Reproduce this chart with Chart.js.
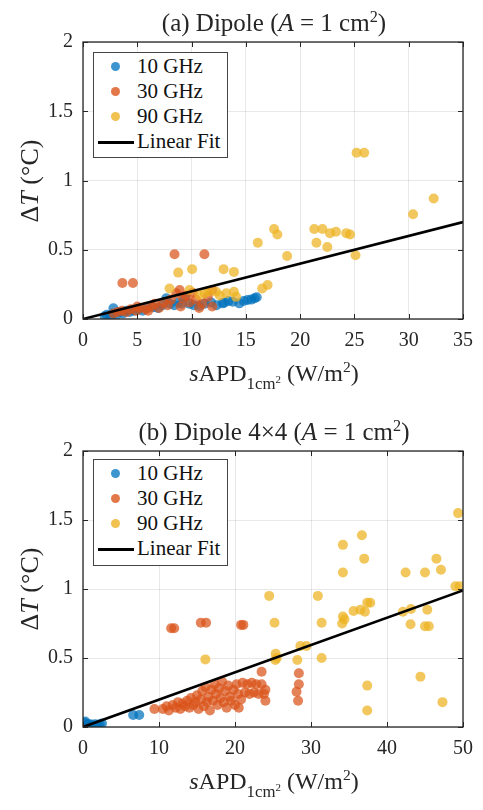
<!DOCTYPE html>
<html><head><meta charset="utf-8">
<script src="https://cdn.jsdelivr.net/npm/chart.js@4"></script>
<style>
body{margin:0;background:#fff;width:483px;height:810px;position:relative;overflow:hidden;font-family:"Liberation Serif","Times New Roman",serif;color:#262626}
canvas{position:absolute;left:0}
.t{position:absolute;white-space:nowrap;transform:translateX(-50%);font-size:25px;line-height:1}
.xl{position:absolute;white-space:nowrap;transform:translateX(-50%);font-size:24px;line-height:1}
.yl{position:absolute;white-space:nowrap;transform:translate(-50%,-50%) rotate(-90deg);font-size:26px;line-height:1}
sup{font-size:0.65em;vertical-align:0.55em;line-height:0}
sub{font-size:0.7em;vertical-align:-0.5em;line-height:0}
.lg{position:absolute;border:1px solid #444;background:#fff;font-size:21px;color:#111;padding-top:1px}
.lg div{position:relative;height:25px;line-height:25px;padding-left:43px}
.lg span.d{position:absolute;left:17px;top:8px;width:9px;height:9px;border-radius:50%}
.lg span.l{position:absolute;left:4px;top:12px;width:36px;height:2.5px;background:#000}
</style></head><body>
<canvas id="ca" width="483" height="405" style="top:0"></canvas>
<canvas id="cb" width="483" height="405" style="top:405px"></canvas>

<div class="t" style="left:274px;top:10px">(a) Dipole (<i>A</i> = 1 cm<sup>2</sup>)</div>
<div class="xl" style="left:274px;top:361px"><i>s</i>APD<sub>1cm<sup>2</sup></sub> (W/m<sup>2</sup>)</div>
<div class="yl" style="left:30px;top:181px">Δ<i>T</i> (°C)</div>

<div class="t" style="left:274px;top:419px">(b) Dipole 4×4 (<i>A</i> = 1 cm<sup>2</sup>)</div>
<div class="xl" style="left:274px;top:769px"><i>s</i>APD<sub>1cm<sup>2</sup></sub> (W/m<sup>2</sup>)</div>
<div class="yl" style="left:30px;top:589px">Δ<i>T</i> (°C)</div>

<div class="lg" id="lga" style="left:93px;top:52px;width:133px;height:103px"></div>
<div class="lg" id="lgb" style="left:93px;top:459px;width:133px;height:104px"></div>

<script>
// ---------- data ----------
const seriesNames = ["10 GHz", "30 GHz", "90 GHz"];
const fitName = "Linear Fit";
const yTicks = [0, 0.5, 1, 1.5, 2];
const xTicksA = [0, 5, 10, 15, 20, 25, 30, 35];
const xTicksB = [0, 10, 20, 30, 40, 50];

const dipole10GHz = [[2.0,0.02],[2.2,0.03],[2.5,0.02],[2.8,0.04],[2.8,0.077],[3.1,0.03],[3.4,0.05],[3.7,0.04],[4.0,0.06],[4.3,0.05],[4.7,0.06],[5.1,0.07],[5.5,0.06],[5.9,0.08],[6.45,0.085],[6.9,0.08],[7.3,0.10],[7.67,0.15],[8.0,0.11],[8.4,0.10],[8.8,0.12],[9.1,0.11],[9.4,0.16],[9.8,0.11],[10.2,0.10],[10.7,0.094],[11.2,0.11],[11.8,0.12],[12.3,0.10],[12.86,0.113],[13.0,0.118],[13.4,0.13],[13.8,0.125],[14.4,0.113],[14.8,0.13],[15.15,0.137],[15.5,0.14],[15.8,0.15],[16.0,0.157]];
const dipole30GHz = [[2.8,0.04],[3.2,0.05],[3.6,0.06],[3.63,0.26],[4.0,0.05],[4.4,0.07],[4.6,0.26],[4.9,0.06],[5.0,0.09],[5.3,0.08],[5.8,0.07],[6.0,0.06],[6.3,0.09],[6.6,0.11],[7.0,0.08],[7.4,0.12],[7.8,0.10],[8.1,0.14],[8.43,0.467],[8.6,0.186],[8.9,0.21],[9.0,0.09],[9.2,0.15],[9.5,0.17],[9.8,0.12],[10.1,0.19],[10.4,0.14],[10.7,0.08],[11.0,0.11],[11.18,0.467],[11.5,0.16],[11.9,0.21],[11.9,0.09]];
const dipole90GHz = [[7.97,0.22],[8.77,0.335],[9.8,0.21],[10.05,0.36],[10.7,0.173],[11.2,0.186],[11.6,0.20],[12.25,0.197],[12.6,0.17],[12.95,0.36],[13.2,0.186],[13.9,0.34],[13.9,0.197],[14.1,0.16],[16.1,0.55],[16.5,0.22],[17.0,0.245],[17.6,0.65],[17.9,0.61],[18.8,0.455],[21.3,0.65],[21.5,0.55],[22.05,0.65],[22.5,0.52],[22.75,0.62],[23.3,0.63],[24.25,0.62],[24.6,0.61],[25.1,0.46],[25.2,1.2],[25.9,1.2],[30.4,0.756],[32.3,0.87]];
const dipoleFit = [[0,0],[35,0.70]];

const array10GHz = [[0.2,0.03],[0.3,0.04],[0.4,0.01],[0.6,0.02],[0.8,0.015],[1.0,0.02],[1.3,0.01],[1.6,0.02],[1.9,0.015],[2.2,0.02],[2.5,0.025],[6.6,0.087],[7.4,0.087]];
const array30GHz = [[9.4,0.13],[10.5,0.13],[11.0,0.15],[11.3,0.12],[11.6,0.715],[11.8,0.16],[12.0,0.715],[12.2,0.14],[12.5,0.18],[12.8,0.13],[13.1,0.17],[13.4,0.15],[13.7,0.19],[14.0,0.14],[14.2,0.21],[14.5,0.16],[14.8,0.18],[15.0,0.23],[15.2,0.13],[15.5,0.756],[15.5,0.20],[15.7,0.26],[15.9,0.15],[16.1,0.29],[16.2,0.756],[16.3,0.18],[16.5,0.22],[16.7,0.12],[16.9,0.27],[17.1,0.19],[17.3,0.31],[17.5,0.24],[17.7,0.16],[17.9,0.28],[18.1,0.21],[18.3,0.33],[18.5,0.18],[18.7,0.26],[18.9,0.14],[19.1,0.30],[19.3,0.22],[19.5,0.19],[19.8,0.27],[20.0,0.16],[20.2,0.31],[20.4,0.24],[20.5,0.14],[20.8,0.74],[20.8,0.20],[21.0,0.32],[21.1,0.74],[21.3,0.25],[21.6,0.31],[21.9,0.24],[22.2,0.32],[22.5,0.25],[22.8,0.31],[23.1,0.24],[23.5,0.40],[23.5,0.31],[23.8,0.24],[24.0,0.27],[24.0,0.19],[28.1,0.256],[28.3,0.19],[28.4,0.39],[28.4,0.31]];
const array90GHz = [[16.1,0.49],[24.5,0.95],[25.2,0.756],[25.35,0.53],[25.5,0.50],[25.3,0.485],[28.2,0.485],[28.6,0.587],[29.4,0.587],[30.9,0.95],[31.4,0.756],[31.4,0.50],[34.1,0.75],[34.2,0.80],[34.4,0.78],[34.2,1.12],[34.2,1.32],[35.6,0.84],[36.5,0.85],[36.7,1.39],[37.0,1.22],[37.1,0.835],[37.4,0.90],[37.8,0.90],[37.4,0.30],[37.4,0.12],[42.1,0.835],[42.45,1.12],[43.1,0.745],[43.15,0.855],[44.4,0.365],[45.0,1.12],[45.0,0.73],[45.5,0.73],[45.3,0.85],[46.5,1.22],[47.1,1.14],[47.3,0.18],[49.0,1.02],[49.55,1.02],[49.35,1.55]];
const arrayFit = [[0,0],[50,0.99]];

// ---------- styling ----------
const colors = ["rgba(0,114,189,0.72)", "rgba(217,83,25,0.72)", "rgba(237,177,32,0.72)"];
const solid = ["#3d95d0", "#e2774a", "#f1c251"];
const FONT = "'Liberation Serif','Times New Roman',serif";

function pts(a){ return a.map(p => ({x:p[0], y:p[1]})); }

const boxTicks = {
  id: 'boxTicks',
  afterDatasetsDraw(chart){
    const {ctx, chartArea:a, scales} = chart;
    ctx.save();
    ctx.strokeStyle = '#262626';
    ctx.lineWidth = 1;
    const L = 5;
    scales.x.ticks.forEach(t => {
      const px = Math.round(scales.x.getPixelForValue(t.value)) + 0.5;
      ctx.beginPath();
      ctx.moveTo(px, a.bottom); ctx.lineTo(px, a.bottom - L);
      ctx.moveTo(px, a.top); ctx.lineTo(px, a.top + L);
      ctx.stroke();
    });
    scales.y.ticks.forEach(t => {
      const py = Math.round(scales.y.getPixelForValue(t.value)) + 0.5;
      ctx.beginPath();
      ctx.moveTo(a.left, py); ctx.lineTo(a.left + L, py);
      ctx.moveTo(a.right, py); ctx.lineTo(a.right - L, py);
      ctx.stroke();
    });
    ctx.lineWidth = 1.3;
    ctx.strokeRect(a.left, a.top, a.right - a.left, a.bottom - a.top);
    ctx.restore();
  }
};

function make(id, d10, d30, d90, fit, xTicks, xMax, padTop, xH){
  const sc = [d10, d30, d90];
  const datasets = sc.map((d, i) => ({
    type:'scatter', label:seriesNames[i], data:pts(d),
    backgroundColor:colors[i], borderWidth:0, pointRadius:5, order:3 - i
  }));
  datasets.push({type:'line', label:fitName, data:pts(fit), borderColor:'#000', borderWidth:2.6, pointRadius:0, order:0});
  new Chart(document.getElementById(id), {
    data:{datasets},
    options:{
      responsive:false, animation:false, devicePixelRatio:1,
      layout:{padding:{top:padTop, right:18, left:0, bottom:0}},
      plugins:{legend:{display:false}, tooltip:{enabled:false}},
      scales:{
        x:{type:'linear', min:0, max:xMax,
          afterBuildTicks(s){ s.ticks = xTicks.map(v => ({value:v})); },
          afterFit(s){ s.height = xH; },
          grid:{color:'rgba(0,0,0,0.09)', drawTicks:false}, border:{display:false},
          ticks:{padding:10, color:'#262626', font:{family:FONT, size:20}, maxRotation:0,
            callback:v => String(v)}},
        y:{type:'linear', min:0, max:2,
          afterBuildTicks(s){ s.ticks = yTicks.map(v => ({value:v})); },
          afterFit(s){ s.width = 83; },
          grid:{color:'rgba(0,0,0,0.09)', drawTicks:false}, border:{display:false},
          ticks:{padding:10, color:'#262626', font:{family:FONT, size:20},
            callback:v => String(v)}}
      }
    },
    plugins:[boxTicks]
  });
}

make('ca', dipole10GHz, dipole30GHz, dipole90GHz, dipoleFit, xTicksA, 35, 42, 86);
make('cb', array10GHz, array30GHz, array90GHz, arrayFit, xTicksB, 50, 46, 83);

function legend(id){
  const el = document.getElementById(id);
  let h = '';
  seriesNames.forEach((n, i) => { h += `<div><span class="d" style="background:${solid[i]}"></span>${n}</div>`; });
  h += `<div style="padding-left:43px"><span class="l"></span>${fitName}</div>`;
  el.innerHTML = h;
}
legend('lga'); legend('lgb');
</script>
</body></html>
